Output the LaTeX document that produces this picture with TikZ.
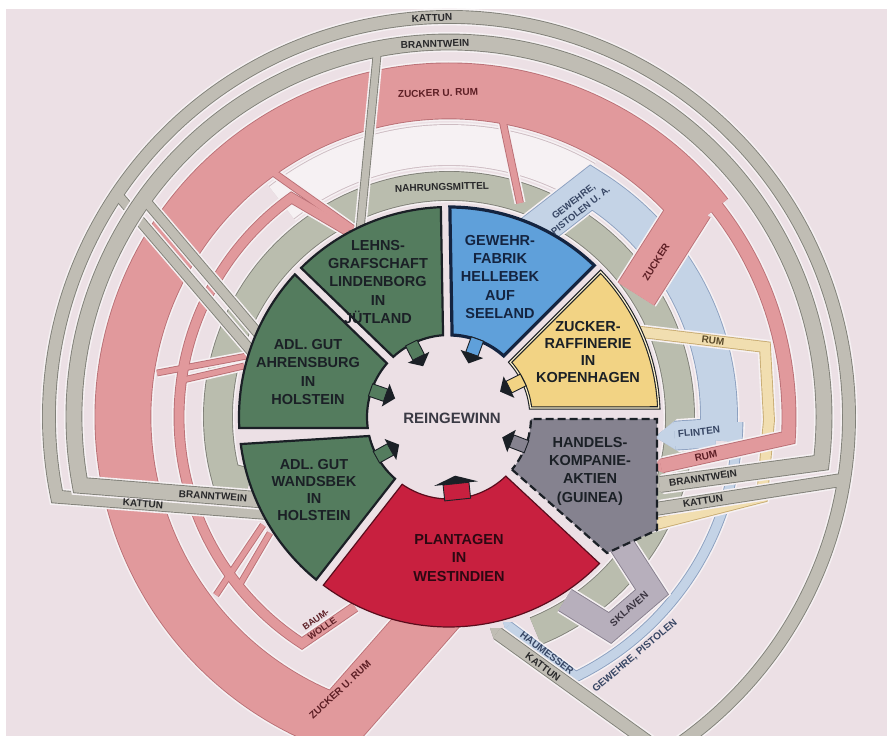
\documentclass[tikz,border=0pt]{standalone}
\usepackage{fontspec}
\setmainfont{Liberation Sans}
\usetikzlibrary{arrows.meta}
\definecolor{bgc}{RGB}{236,224,229}
\definecolor{halo}{RGB}{246,241,243}
\definecolor{wbE}{RGB}{205,188,194}
\definecolor{grayF}{RGB}{192,189,180}
\definecolor{grayE}{RGB}{128,128,120}
\definecolor{nahrF}{RGB}{186,189,174}
\definecolor{pinkF}{RGB}{225,153,156}
\definecolor{pinkE}{RGB}{186,112,118}
\definecolor{blueF}{RGB}{196,211,230}
\definecolor{blueE}{RGB}{140,160,192}
\definecolor{yelF}{RGB}{241,222,176}
\definecolor{yelE}{RGB}{200,172,115}
\definecolor{sklF}{RGB}{183,175,188}
\definecolor{sklE}{RGB}{135,127,142}
\definecolor{secG}{RGB}{84,124,94}
\definecolor{secB}{RGB}{95,160,218}
\definecolor{secY}{RGB}{242,211,132}
\definecolor{secYl}{RGB}{251,240,205}
\definecolor{secH}{RGB}{133,130,143}
\definecolor{secR}{RGB}{200,32,63}
\definecolor{ink}{RGB}{27,32,38}
\definecolor{navy}{RGB}{20,36,64}
\definecolor{redink}{RGB}{90,12,28}
\definecolor{pinkT}{RGB}{92,30,36}
\definecolor{blueT}{RGB}{55,70,100}
\definecolor{grayT}{RGB}{40,40,42}
\definecolor{yelT}{RGB}{90,74,42}
\definecolor{sklT}{RGB}{58,52,64}
\tikzset{
  band/.style={line join=miter, miter limit=10, line cap=butt},
  H/.style={draw=halo, line width=#1+5},
  E/.style={line width=#1+1.8},
  F/.style={line width=#1},
  tipE/.style={-{Triangle[length=0pt 0.7, width=0pt 1, line width=0pt]}},
  tipS/.style={{Triangle[length=0pt 0.7, width=0pt 1, line width=0pt]}-},
  sl/.style={font=\fontsize{14.5}{18.3}\selectfont\bfseries, text=ink, align=center, inner sep=0pt},
  bl/.style={font=\fontsize{10}{11.5}\selectfont\bfseries, text=grayT, align=center, inner sep=0pt},
  sect/.style={draw=ink, line width=2.2, line join=miter},
}
\newcommand\bandgroup[3]{%
  \foreach \w/\p in {#3}{\draw[band,H=\w] \p;}%
  \foreach \w/\p in {#3}{\draw[band,E=\w,draw=#2] \p;}%
  \foreach \w/\p in {#3}{\draw[band,F=\w,draw=#1] \p;}%
}
\begin{document}
\begin{tikzpicture}[x=1pt,y=1pt]
\useasboundingbox (0,0) rectangle (894,736);
\clip (0,0) rectangle (894,736);
\fill[white] (0,0) rectangle (894,736);
\fill[bgc] (6,0) rectangle (887,727);
\begin{scope}[shift={(449,319)}]

% white band at the top
\bandgroup{halo}{wbE}{40/{(128:272pt) arc[start angle=128,end angle=60,radius=272pt]}}

% NAHRUNGSMITTEL ring
\bandgroup{nahrF}{grayE}{28/{(-200,-66) -- (195:231pt) arc[start angle=195,end angle=-68,radius=231pt]}}

% blue: Gewehre, Flinten, Haumesser
\bandgroup{blueF}{blueE}{36/{(80,181) -- (58.2:270pt) arc[start angle=58.2,end angle=-5,radius=270pt]}, 28/{[tipE] (266,-16) -- (206,-20)}, 9/{[tipE] (-1:289pt) arc[start angle=-1,end angle=-64,radius=289pt] -- (54,-205)}}

% yellow RUM
\bandgroup{yelF}{yelE}{10/{[tipE] (184,86) -- (316,70) -- (320,-3) -- (313,-80) -- (180,-114)}}

% SKLAVEN
\bandgroup{sklF}{sklE}{24/{(170,-124) -- (203,-175) -- (161,-211) -- (116,-183)}}

% pink system
\bandgroup{pinkF}{pinkE}{55/{(-5,-185) -- (250:326pt) arc[start angle=250,end angle=38,radius=326pt]}, 42/{(41:322pt) -- (187,123)}, 13/{[tipE] (40:340pt) arc[start angle=40,end angle=-3.5,radius=340pt] -- (203,-51)}, 6/{(52,304) -- (71,214)}, 9/{(-94,-190) -- (237:270pt) arc[start angle=237,end angle=125.7,radius=270pt] -- (-101,186)}, 6/{(-175,244) -- (-96,188)}, 5/{(-292,44) -- (-202,61)}, 5/{(-266,37) -- (-205,51)}, 5/{(-233,-178) -- (-186,-108)}, 5/{(-210,-169) -- (-179,-116)}}

% KATTUN
\bandgroup{grayF}{grayE}{12/{(-182,-96) -- (191.5:400pt) arc[start angle=191.5,end angle=-56,radius=400pt]}, 12/{[tipE] (-9:400pt) -- (200,-93)}, 9/{(-332,223) -- (-197,65)}, 12/{[tipS] (41,-211) -- (245,-358)}}
% BRANNTWEIN
\bandgroup{grayF}{grayE}{15/{[tipE] (-186,-83) -- (190.5:375pt) arc[start angle=190.5,end angle=-7,radius=375pt] -- (200,-69)}, 9/{(-305,218) -- (-187,79)}, 7/{(-71,372) -- (-89,187)}}

% sectors
\draw[sect, fill=secB, draw=navy, line width=3.2] (48.15:82pt) -- (46.23:210pt) arc[start angle=46.23,end angle=89.77,radius=210pt] -- (87.85:82pt) arc[start angle=87.85,end angle=48.15,radius=82pt] -- cycle;
\draw[sect, fill=secG] (94.15:82pt) -- (92.23:210pt) arc[start angle=92.23,end angle=134.77,radius=210pt] -- (132.85:82pt) arc[start angle=132.85,end angle=94.15,radius=82pt] -- cycle;
\draw[sect, fill=secG] (139.15:82pt) -- (137.23:210pt) arc[start angle=137.23,end angle=183,radius=210pt] -- (187.7:82pt) arc[start angle=187.7,end angle=139.15,radius=82pt] -- cycle;
\draw[sect, fill=secG] (193.4:82pt) -- (187.4:210pt) arc[start angle=187.4,end angle=230.77,radius=210pt] -- (228.85:82pt) arc[start angle=228.85,end angle=193.4,radius=82pt] -- cycle;
\draw[sect, fill=secR, draw=redink, line width=1.2] (235.15:82pt) -- (233.23:210pt) arc[start angle=233.23,end angle=315.77,radius=210pt] -- (313.85:82pt) arc[start angle=313.85,end angle=235.15,radius=82pt] -- cycle;
\draw[sect, fill=secH, dash pattern=on 8pt off 4pt] (-39.85:82pt) -- (158,-136) -- (208,-113) -- (208,-2) -- (-1.4:82pt) arc[start angle=-1.4,end angle=-39.85,radius=82pt] -- cycle;
\draw[sect, fill=secY, line width=1.1, double=secYl, double distance=1.2pt] (6.3:82pt) -- (2.47:210pt) arc[start angle=2.47,end angle=43.77,radius=210pt] -- (41.85:82pt) arc[start angle=41.85,end angle=6.3,radius=82pt] -- cycle;

% arrows into the centre
\foreach \a/\c in {117/secG, 70/secB, 26.5/secY, -21/secH, 209/secG, 161/secG}{
  \begin{scope}[rotate=\a]
    \draw[fill=\c, draw=ink, line width=0.9] (67,-6.5) rectangle (83,6.5);
    \fill[ink] (67,-12) -- (67,12) -- (57,0) -- cycle;
  \end{scope}
}
\begin{scope}[rotate=276]
  \draw[fill=secR, draw=ink, line width=0.9] (67,-13) rectangle (83,13);
  \fill[ink] (67,-22) -- (67,22) -- (59,0) -- cycle;
\end{scope}

% sector labels
\node[sl] (nLehns) at (-71,135) {LEHNS-\\GRAFSCHAFT\\LINDENBORG\\IN\\JÜTLAND};
\node[sl, text=navy] (nGewehr) at (51,140) {GEWEHR-\\FABRIK\\HELLEBEK\\AUF\\SEELAND};
\node[sl, font=\fontsize{14.5}{17.3}\selectfont\bfseries] (nZucker) at (139,65) {ZUCKER-\\RAFFINERIE\\IN\\KOPENHAGEN};
\node[sl] (nHandels) at (141,-54) {HANDELS-\\KOMPANIE-\\AKTIEN\\(GUINEA)};
\node[sl] (nAhrens) at (-141,45) {ADL. GUT\\AHRENSBURG\\IN\\HOLSTEIN};
\node[sl, font=\fontsize{14.5}{17.2}\selectfont\bfseries] (nWands) at (-135,-73) {ADL. GUT\\WANDSBEK\\IN\\HOLSTEIN};
\node[sl, text={rgb,255:red,45;green,8;blue,18}] (nPlant) at (10,-141) {PLANTAGEN\\IN\\WESTINDIEN};
\node[sl, font=\fontsize{15}{17}\selectfont\bfseries, text={rgb,255:red,58;green,58;blue,68}] (nRein) at (3,-1) {REINGEWINN};

% band labels
\node[bl, rotate=2] (tKat1) at (-17,399) {KATTUN};
\node[bl, rotate=2] (tBra1) at (-14,373) {BRANNTWEIN};
\node[bl, rotate=2, text=pinkT] (tZR1) at (-11,324) {ZUCKER U. RUM};
\node[bl, rotate=2] (tNahr) at (-7,230) {NAHRUNGSMITTEL};
\node[bl, rotate=38, text=blueT, font=\fontsize{9.5}{11.5}\selectfont\bfseries] (tGew) at (128,211) {GEWEHRE,\\PISTOLEN U. A.};
\node[bl, rotate=58, text=pinkT] (tZuck) at (207,155) {ZUCKER};
\node[bl, rotate=-7, text=yelT] (tRumY) at (264,76) {RUM};
\node[bl, rotate=6, text=blueT] (tFlint) at (250,-15) {FLINTEN};
\node[bl, rotate=12, text=pinkT] (tRumP) at (257,-39) {RUM};
\node[bl, rotate=8] (tBra2) at (254,-61) {BRANNTWEIN};
\node[bl, rotate=9] (tKat2) at (254,-84) {KATTUN};
\node[bl, rotate=-4] (tBra3) at (-236,-79) {BRANNTWEIN};
\node[bl, rotate=-4] (tKat3) at (-306,-87) {KATTUN};
\node[bl, rotate=35, text=pinkT, font=\fontsize{9}{11}\selectfont\bfseries] (tBaum) at (-130,-207) {BAUM-\\WOLLE};
\node[bl, rotate=43, text=pinkT] (tZR2) at (-109,-273) {ZUCKER U. RUM};
\node[bl, rotate=41, text=sklT] (tSkl) at (180,-192) {SKLAVEN};
\node[bl, rotate=-37, text=blueT] (tHau) at (98,-236) {HAUMESSER};
\node[bl, rotate=-36] (tKat4) at (94,-250) {KATTUN};
\node[bl, rotate=40, text=blueT] (tGew2) at (186,-239) {GEWEHRE, PISTOLEN};
\end{scope}
\end{tikzpicture}
\end{document}
